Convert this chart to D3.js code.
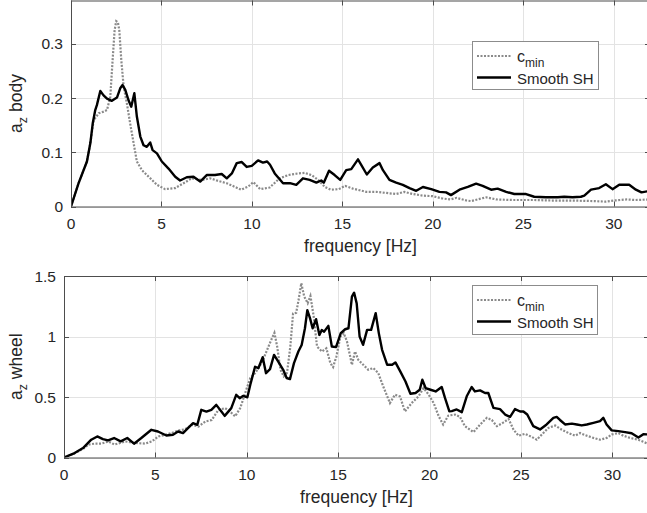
<!DOCTYPE html>
<html>
<head>
<meta charset="utf-8">
<script src="https://cdn.jsdelivr.net/npm/d3@7"></script>
<style>
  html, body { margin: 0; padding: 0; background: #fff; }
  svg { display: block; }
  text { font-family: "Liberation Sans", Arial, Helvetica, sans-serif; fill: #262626; }
</style>
</head>
<body>
<svg id="chart" width="647" height="513"></svg>
<script>
// ---- Body acceleration spectrum (a_z body) ----
const bodySmoothFreq = [0, 0.42, 0.88, 1.07, 1.2, 1.34, 1.43, 1.62, 1.8, 1.99, 2.26, 2.54, 2.72, 2.85, 3.0, 3.18, 3.33, 3.5, 3.64, 3.83, 4.01, 4.19, 4.38, 4.51, 4.75, 5.02, 5.39, 5.76, 6.03, 6.4, 6.77, 7.14, 7.5, 7.96, 8.33, 8.61, 8.89, 9.16, 9.44, 9.71, 9.99, 10.34, 10.61, 10.84, 11.0, 11.26, 11.72, 12.1, 12.45, 12.82, 13.19, 13.56, 13.83, 13.97, 14.26, 14.57, 14.88, 15.21, 15.49, 15.86, 16.04, 16.35, 16.68, 17.05, 17.24, 17.6, 17.97, 18.34, 18.71, 19.08, 19.45, 19.91, 20.36, 20.73, 21.0, 21.47, 21.93, 22.39, 22.75, 23.22, 23.58, 24.05, 24.5, 25.15, 25.6, 26.25, 26.9, 27.26, 27.72, 28.18, 28.37, 28.74, 29.19, 29.56, 29.93, 30.3, 30.85, 31.22, 31.53, 32];
const bodySmooth = [0, 0.043, 0.083, 0.117, 0.153, 0.178, 0.187, 0.213, 0.205, 0.199, 0.195, 0.201, 0.218, 0.224, 0.215, 0.196, 0.184, 0.209, 0.166, 0.129, 0.113, 0.110, 0.118, 0.104, 0.098, 0.083, 0.070, 0.055, 0.048, 0.054, 0.055, 0.046, 0.058, 0.058, 0.060, 0.052, 0.061, 0.080, 0.082, 0.073, 0.075, 0.085, 0.081, 0.083, 0.077, 0.061, 0.043, 0.043, 0.040, 0.052, 0.049, 0.044, 0.048, 0.044, 0.066, 0.058, 0.049, 0.067, 0.069, 0.087, 0.077, 0.059, 0.072, 0.080, 0.067, 0.049, 0.044, 0.040, 0.034, 0.029, 0.036, 0.032, 0.027, 0.026, 0.021, 0.031, 0.036, 0.042, 0.038, 0.031, 0.033, 0.027, 0.023, 0.023, 0.018, 0.017, 0.017, 0.018, 0.017, 0.018, 0.020, 0.031, 0.034, 0.041, 0.032, 0.040, 0.040, 0.031, 0.026, 0.029];
const bodyCminFreq = [0, 0.42, 0.88, 1.07, 1.25, 1.53, 1.8, 1.99, 2.17, 2.3, 2.41, 2.5, 2.59, 2.67, 2.78, 2.91, 3.09, 3.27, 3.46, 3.64, 3.92, 4.29, 4.75, 5.2, 5.76, 6.22, 6.68, 7.23, 7.69, 8.15, 8.6, 9.07, 9.4, 9.8, 10.08, 10.45, 10.98, 11.53, 12.0, 12.55, 12.92, 13.29, 13.66, 14.03, 14.35, 14.8, 15.15, 15.58, 15.95, 16.32, 16.87, 17.43, 17.97, 18.43, 18.9, 19.45, 20.0, 20.5, 20.96, 21.3, 21.87, 22.1, 22.95, 23.5, 24.4, 25.55, 26.6, 27.7, 28.9, 29.55, 30.0, 30.7, 31.2, 32];
const bodyCmin = [0, 0.043, 0.083, 0.117, 0.159, 0.172, 0.175, 0.178, 0.202, 0.27, 0.325, 0.342, 0.340, 0.325, 0.27, 0.221, 0.190, 0.153, 0.117, 0.083, 0.067, 0.055, 0.040, 0.032, 0.034, 0.043, 0.052, 0.049, 0.052, 0.047, 0.043, 0.036, 0.031, 0.037, 0.045, 0.032, 0.035, 0.052, 0.058, 0.061, 0.062, 0.058, 0.049, 0.036, 0.031, 0.032, 0.038, 0.033, 0.030, 0.027, 0.027, 0.025, 0.023, 0.027, 0.023, 0.020, 0.019, 0.015, 0.013, 0.016, 0.011, 0.010, 0.017, 0.013, 0.012, 0.012, 0.011, 0.011, 0.010, 0.009, 0.011, 0.013, 0.012, 0.013];

// ---- Wheel acceleration spectrum (a_z wheel) ----
const wheelSmoothFreq = [0, 0.58, 1.04, 1.49, 1.82, 2.13, 2.41, 2.74, 3.1, 3.46, 3.83, 4.23, 4.78, 5.14, 5.6, 5.96, 6.24, 6.51, 6.78, 7.06, 7.29, 7.51, 7.79, 8.06, 8.33, 8.61, 8.79, 9.15, 9.42, 9.61, 9.79, 10.03, 10.21, 10.45, 10.63, 10.87, 11.05, 11.27, 11.49, 11.72, 11.99, 12.18, 12.36, 12.58, 12.82, 13.0, 13.18, 13.31, 13.46, 13.6, 13.79, 13.97, 14.1, 14.23, 14.46, 14.65, 14.88, 15.14, 15.38, 15.56, 15.75, 15.87, 16.01, 16.17, 16.36, 16.58, 16.8, 17.05, 17.22, 17.4, 17.68, 17.95, 18.13, 18.4, 18.68, 18.95, 19.23, 19.46, 19.6, 19.78, 20.05, 20.33, 20.66, 20.84, 21.08, 21.21, 21.48, 21.76, 22.03, 22.3, 22.48, 22.76, 23.03, 23.21, 23.49, 23.85, 24.13, 24.4, 24.67, 24.95, 25.13, 25.34, 25.67, 26.04, 26.4, 26.77, 26.95, 27.13, 27.41, 27.78, 28.05, 28.32, 28.6, 28.96, 29.32, 29.5, 29.68, 29.96, 30.32, 30.69, 31.05, 31.42, 31.69, 32];
const wheelSmooth = [0, 0.037, 0.078, 0.147, 0.174, 0.152, 0.141, 0.161, 0.133, 0.161, 0.114, 0.161, 0.229, 0.215, 0.182, 0.188, 0.215, 0.202, 0.243, 0.284, 0.27, 0.394, 0.38, 0.394, 0.435, 0.38, 0.344, 0.408, 0.518, 0.49, 0.509, 0.498, 0.613, 0.75, 0.738, 0.829, 0.697, 0.73, 0.848, 0.793, 0.725, 0.657, 0.648, 0.78, 0.876, 0.93, 1.068, 1.218, 1.15, 1.068, 1.143, 1.013, 1.054, 1.04, 1.088, 0.917, 0.912, 1.027, 1.06, 1.068, 1.329, 1.362, 1.274, 1.0, 0.931, 1.055, 1.055, 1.193, 1.028, 0.89, 0.766, 0.766, 0.786, 0.71, 0.628, 0.527, 0.533, 0.56, 0.643, 0.574, 0.56, 0.546, 0.583, 0.492, 0.381, 0.383, 0.397, 0.375, 0.506, 0.583, 0.546, 0.555, 0.533, 0.533, 0.41, 0.40, 0.355, 0.336, 0.40, 0.38, 0.38, 0.355, 0.259, 0.232, 0.273, 0.328, 0.336, 0.31, 0.273, 0.28, 0.273, 0.265, 0.273, 0.286, 0.30, 0.328, 0.273, 0.224, 0.218, 0.21, 0.20, 0.165, 0.193, 0.19];
const wheelCminFreq = [0, 0.58, 1.04, 1.34, 1.7, 2.06, 2.43, 2.76, 3.07, 3.34, 3.89, 4.44, 4.8, 5.17, 5.53, 5.9, 6.26, 6.63, 6.99, 7.36, 7.72, 8.08, 8.45, 8.81, 9.08, 9.36, 9.64, 9.91, 10.19, 10.46, 10.84, 11.11, 11.33, 11.51, 11.66, 11.84, 12.02, 12.2, 12.38, 12.53, 12.7, 12.83, 12.98, 13.14, 13.33, 13.48, 13.66, 13.84, 14.11, 14.35, 14.57, 14.72, 14.9, 15.12, 15.3, 15.48, 15.75, 15.92, 16.1, 16.37, 16.64, 16.92, 17.19, 17.46, 17.83, 18.1, 18.38, 18.65, 19.02, 19.39, 19.67, 19.95, 20.22, 20.5, 20.74, 21.02, 21.39, 21.66, 21.93, 22.4, 22.76, 23.13, 23.4, 23.68, 24.04, 24.32, 24.59, 24.86, 25.22, 25.59, 25.86, 26.14, 26.5, 26.87, 27.23, 27.6, 27.96, 28.23, 28.6, 28.96, 29.32, 29.69, 29.96, 30.32, 30.6, 30.96, 31.42, 32];
const wheelCmin = [0, 0.035, 0.07, 0.107, 0.115, 0.115, 0.133, 0.107, 0.12, 0.133, 0.12, 0.115, 0.133, 0.174, 0.188, 0.202, 0.223, 0.234, 0.27, 0.256, 0.297, 0.31, 0.394, 0.408, 0.38, 0.34, 0.408, 0.533, 0.657, 0.698, 0.79, 0.889, 0.97, 1.03, 0.917, 0.725, 0.67, 0.70, 0.917, 1.19, 1.196, 1.30, 1.44, 1.33, 1.275, 1.335, 1.164, 0.917, 0.876, 0.903, 0.78, 0.747, 0.835, 1.0, 1.028, 0.959, 0.766, 0.876, 0.807, 0.766, 0.725, 0.739, 0.698, 0.588, 0.45, 0.519, 0.505, 0.381, 0.45, 0.505, 0.574, 0.519, 0.45, 0.34, 0.272, 0.346, 0.355, 0.336, 0.259, 0.21, 0.272, 0.328, 0.31, 0.259, 0.29, 0.318, 0.23, 0.18, 0.196, 0.17, 0.147, 0.19, 0.245, 0.264, 0.23, 0.202, 0.18, 0.202, 0.18, 0.162, 0.147, 0.162, 0.19, 0.202, 0.18, 0.162, 0.147, 0.11];

// ---- Axis ticks and labels ----
const freqTicks = [0, 5, 10, 15, 20, 25, 30];
const freqDomain = [0, 32];
const bodyTicks = [0, 0.1, 0.2, 0.3];
const bodyDomain = [0, 0.38];
const wheelTicks = [0, 0.5, 1, 1.5];
const wheelDomain = [0, 1.5];
const xLabel = "frequency [Hz]";
const seriesNames = ["min", "Smooth SH"]; // first entry is the subscript of "c"

const svg = d3.select("#chart");

const zip = (fs, vs) => fs.map((f, i) => ({ f, v: vs[i] }));

function panel(cfg) {
  const x = d3.scaleLinear().domain(freqDomain).range([cfg.left, cfg.right]);
  const y = d3.scaleLinear().domain(cfg.yDomain).range([cfg.bottom, cfg.top]);
  const g = svg.append("g");
  const clipId = "clip-" + cfg.id;
  svg.append("clipPath").attr("id", clipId).append("rect")
    .attr("x", cfg.left).attr("y", cfg.top)
    .attr("width", cfg.right - cfg.left).attr("height", cfg.bottom - cfg.top);

  // grid
  const grid = g.append("g").attr("stroke", "#e3e3e3").attr("stroke-width", 1);
  grid.selectAll(".gx").data(freqTicks).join("line")
    .attr("x1", d => Math.round(x(d)) + 0.5).attr("x2", d => Math.round(x(d)) + 0.5)
    .attr("y1", cfg.top).attr("y2", cfg.bottom);
  grid.selectAll(".gy").data(cfg.yTicks).join("line")
    .attr("y1", d => Math.round(y(d)) + 0.5).attr("y2", d => Math.round(y(d)) + 0.5)
    .attr("x1", cfg.left).attr("x2", cfg.right);

  // data lines
  const line = d3.line().x(d => x(d.f)).y(d => y(d.v));
  const lines = g.append("g").attr("clip-path", `url(#${clipId})`);
  lines.append("path").datum(zip(cfg.cminF, cfg.cmin))
    .attr("d", line).attr("fill", "none")
    .attr("stroke", "#8a8a8a").attr("stroke-width", 2.2)
    .attr("stroke-dasharray", "2 1.5");
  lines.append("path").datum(zip(cfg.smoothF, cfg.smooth))
    .attr("d", line).attr("fill", "none")
    .attr("stroke", "#000").attr("stroke-width", 2.4)
    .attr("stroke-linejoin", "round");

  // axes: box with inward ticks on all four sides
  const ax = g.append("g").attr("stroke", "#4d4d4d").attr("stroke-width", 1).attr("fill", "none");
  ax.append("rect")
    .attr("x", cfg.left + 0.5).attr("y", cfg.top + 0.5)
    .attr("width", cfg.right - cfg.left).attr("height", cfg.bottom - cfg.top);
  const tl = 5;
  freqTicks.forEach(t => {
    const px = Math.round(x(t)) + 0.5;
    ax.append("line").attr("x1", px).attr("x2", px).attr("y1", cfg.bottom).attr("y2", cfg.bottom - tl);
    ax.append("line").attr("x1", px).attr("x2", px).attr("y1", cfg.top).attr("y2", cfg.top + tl);
  });
  cfg.yTicks.forEach(t => {
    const py = Math.round(y(t)) + 0.5;
    ax.append("line").attr("y1", py).attr("y2", py).attr("x1", cfg.left).attr("x2", cfg.left + tl);
    ax.append("line").attr("y1", py).attr("y2", py).attr("x1", cfg.right).attr("x2", cfg.right - tl);
  });

  // tick labels
  g.selectAll(".xt").data(freqTicks).join("text")
    .attr("x", d => x(d)).attr("y", cfg.bottom + 22)
    .attr("text-anchor", "middle").attr("font-size", 15.5)
    .text(d => d3.format("~g")(d));
  g.selectAll(".yt").data(cfg.yTicks).join("text")
    .attr("x", cfg.left - 8).attr("y", d => y(d) + 5.5)
    .attr("text-anchor", "end").attr("font-size", 15.5)
    .text(d => d3.format("~g")(d));

  // axis labels
  g.append("text")
    .attr("x", (cfg.left + cfg.right) / 2).attr("y", cfg.bottom + 45.5)
    .attr("text-anchor", "middle").attr("font-size", 17.5)
    .text(xLabel);
  const yl = g.append("text")
    .attr("transform", `translate(21.5,${(cfg.top + cfg.bottom) / 2}) rotate(-90)`)
    .attr("text-anchor", "middle").attr("font-size", 17.5);
  yl.append("tspan").text("a");
  yl.append("tspan").attr("dy", 5).attr("font-size", 12.5).text("z");
  yl.append("tspan").attr("dy", -5).text(" " + cfg.yName);

  // legend
  const lg = g.append("g").attr("transform", `translate(${cfg.legX},${cfg.legY})`);
  lg.append("rect").attr("x", 0.5).attr("y", 0.5).attr("width", cfg.legW).attr("height", cfg.legH)
    .attr("fill", "#fff").attr("stroke", "#8c8c8c").attr("stroke-width", 1);
  lg.append("line").attr("x1", 5).attr("x2", 39).attr("y1", 15).attr("y2", 15)
    .attr("stroke", "#8a8a8a").attr("stroke-width", 2.2).attr("stroke-dasharray", "2 1.5");
  lg.append("line").attr("x1", 5).attr("x2", 39).attr("y1", 36.5).attr("y2", 36.5)
    .attr("stroke", "#000").attr("stroke-width", 2.4);
  const t1 = lg.append("text").attr("x", 45).attr("y", 21).attr("font-size", 16);
  t1.append("tspan").text("c");
  t1.append("tspan").attr("dy", 5).attr("font-size", 12).text(seriesNames[0]);
  lg.append("text").attr("x", 45).attr("y", 43).attr("font-size", 15).text(seriesNames[1]);
}

panel({
  id: "body", left: 71, right: 650, top: 0.5, bottom: 206.5,
  yDomain: bodyDomain, yTicks: bodyTicks, yName: "body",
  smoothF: bodySmoothFreq, smooth: bodySmooth, cminF: bodyCminFreq, cmin: bodyCmin,
  legX: 472, legY: 41, legW: 126, legH: 48
});
panel({
  id: "wheel", left: 64, right: 649, top: 276, bottom: 457.5,
  yDomain: wheelDomain, yTicks: wheelTicks, yName: "wheel",
  smoothF: wheelSmoothFreq, smooth: wheelSmooth, cminF: wheelCminFreq, cmin: wheelCmin,
  legX: 472, legY: 285, legW: 125, legH: 49
});
</script>
</body>
</html>
